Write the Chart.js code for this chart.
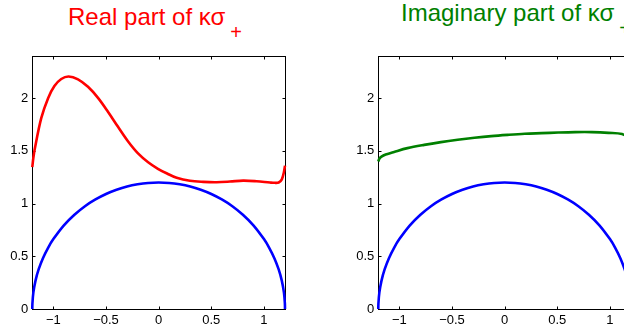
<!DOCTYPE html>
<html>
<head>
<meta charset="utf-8">
<script src="https://cdn.jsdelivr.net/npm/chart.js@4.4.0/dist/chart.umd.min.js"></script>
<style>
body { margin: 0; background: #fff; }
#wrap { position: relative; width: 624px; height: 329px; overflow: hidden; }
canvas { position: absolute; top: 0; }
.title { position: absolute; font-family: "Liberation Sans", Arial, sans-serif; font-size: 24px; line-height: 24px; white-space: nowrap; }
.title span { font-size: 20px; position: relative; top: 14px; margin-left: 5px; }
</style>
</head>
<body>
<div id="wrap">
  <div class="title" style="left:68px; top:5px; color:#ff0000">Real part of κσ<span>+</span></div>
  <div class="title" style="left:401px; top:1px; color:#008000">Imaginary part of κσ<span>+</span></div>
  <canvas id="realChart" width="312" height="329" style="left:0"></canvas>
  <canvas id="imagChart" width="312" height="329" style="left:346px"></canvas>
</div>
<script>
var xTicks = [-1, -0.5, 0, 0.5, 1];
var yTicks = [0, 0.5, 1, 1.5, 2];

// real part (red)
var realX = [-1.2, -1.19, -1.178, -1.115, -1.05, -0.99, -0.925, -0.855, -0.766, -0.671, -0.576,
    -0.48, -0.386, -0.29, -0.196, -0.1, -0.007, 0.08, 0.171, 0.297, 0.424, 0.551, 0.677, 0.803, 0.93, 1.057,
    1.1, 1.14, 1.17, 1.19, 1.2];
var realY = [1.346, 1.435, 1.511, 1.81, 2.0, 2.115, 2.182, 2.206, 2.179, 2.108, 2.003,
    1.869, 1.728, 1.589, 1.476, 1.392, 1.33, 1.285, 1.245, 1.216, 1.206, 1.203, 1.209, 1.218, 1.212, 1.2,
    1.197, 1.2, 1.23, 1.3, 1.36];

// imaginary part (green)
var imagX = [-1.2, -1.19, -1.17, -1.13, -1.05, -0.923, -0.764, -0.605, -0.446, -0.287, -0.127, 0.032, 0.191,
    0.35, 0.509, 0.669, 0.828, 0.987, 1.115, 1.2];
var imagY = [1.4, 1.425, 1.445, 1.465, 1.49, 1.526, 1.557, 1.583, 1.605, 1.624, 1.64, 1.652, 1.662,
    1.668, 1.674, 1.678, 1.678, 1.671, 1.659, 1.61];

// half circle (blue), same on both plots
var arcX = [-1.2, -1.199, -1.19, -1.17, -1.14, -1.1, -1.05, -1.0, -0.9, -0.8, -0.7, -0.6, -0.5, -0.4, -0.3, -0.2,
    -0.1, 0, 0.1, 0.2, 0.3, 0.4, 0.5, 0.6, 0.7, 0.8, 0.9, 1.0, 1.05, 1.1, 1.14, 1.17, 1.19, 1.199, 1.2];
var arcY = [0, 0.049, 0.155, 0.267, 0.375, 0.48, 0.581, 0.663, 0.794, 0.894, 0.975, 1.039, 1.091, 1.131, 1.162,
    1.183, 1.196, 1.2, 1.196, 1.183, 1.162, 1.131, 1.091, 1.039, 0.975, 0.894, 0.794, 0.663, 0.581, 0.48, 0.375,
    0.267, 0.155, 0.049, 0];

function pts(xs, ys) {
    return xs.map(function (x, i) { return {x: x, y: ys[i]}; });
}

function line(data, color, tension) {
    return {
        data: data,
        borderColor: color,
        borderWidth: 2.6,
        pointRadius: 0,
        showLine: true,
        fill: false,
        tension: tension,
        clip: 3
    };
}

// box round the axes with inward tick marks on all four sides
var boxTicks = {
    id: 'boxTicks',
    beforeDatasetsDraw: function (chart) {
        var ctx = chart.ctx, a = chart.chartArea;
        var xs = chart.scales.x, ys = chart.scales.y;
        var l = Math.round(a.left) + 0.5, r = Math.round(a.right) + 0.5;
        var t = Math.round(a.top) + 0.5, b = Math.round(a.bottom) + 0.5;
        ctx.save();
        ctx.strokeStyle = '#000';
        ctx.lineWidth = 1;
        ctx.strokeRect(l, t, r - l, b - t);
        ctx.beginPath();
        xTicks.forEach(function (v) {
            var px = Math.round(xs.getPixelForValue(v)) + 0.5;
            ctx.moveTo(px, b); ctx.lineTo(px, b - 3);
            ctx.moveTo(px, t); ctx.lineTo(px, t + 3);
        });
        yTicks.forEach(function (v) {
            var py = Math.round(ys.getPixelForValue(v)) + 0.5;
            ctx.moveTo(l, py); ctx.lineTo(l + 3, py);
            ctx.moveTo(r, py); ctx.lineTo(r - 3, py);
        });
        ctx.stroke();
        ctx.restore();
    }
};

var tickFont = {family: '"Liberation Sans", Arial, sans-serif', size: 13};

function minus(v) {
    return String(v).replace('-', '\u2212');
}

function makeChart(id, datasets) {
    return new Chart(document.getElementById(id).getContext('2d'), {
        type: 'scatter',
        data: {datasets: datasets},
        plugins: [boxTicks],
        options: {
            responsive: false,
            animation: false,
            layout: {padding: {top: 56, right: 27, bottom: 0, left: 0}},
            plugins: {legend: {display: false}, tooltip: {enabled: false}},
            scales: {
                x: {
                    type: 'linear',
                    min: -1.2,
                    max: 1.2,
                    afterBuildTicks: function (s) { s.ticks = xTicks.map(function (v) { return {value: v}; }); },
                    afterFit: function (s) { s.height = 20; },
                    grid: {display: false, drawTicks: false},
                    border: {display: false},
                    ticks: {padding: 4, color: '#000', font: tickFont, maxRotation: 0, callback: minus}
                },
                y: {
                    type: 'linear',
                    min: 0,
                    max: 2.4,
                    afterBuildTicks: function (s) { s.ticks = yTicks.map(function (v) { return {value: v}; }); },
                    afterFit: function (s) { s.width = 32.3; },
                    grid: {display: false, drawTicks: false},
                    border: {display: false},
                    ticks: {padding: 4, color: '#000', font: tickFont, callback: minus}
                }
            }
        }
    });
}

var realChart = makeChart('realChart', [
    line(pts(realX, realY), '#ff0000', 0.35),
    line(pts(arcX, arcY), '#0000ff', 0.35)
]);

var imagChart = makeChart('imagChart', [
    line(pts(imagX, imagY), '#008000', 0.35),
    line(pts(arcX, arcY), '#0000ff', 0.35)
]);
</script>
</body>
</html>
